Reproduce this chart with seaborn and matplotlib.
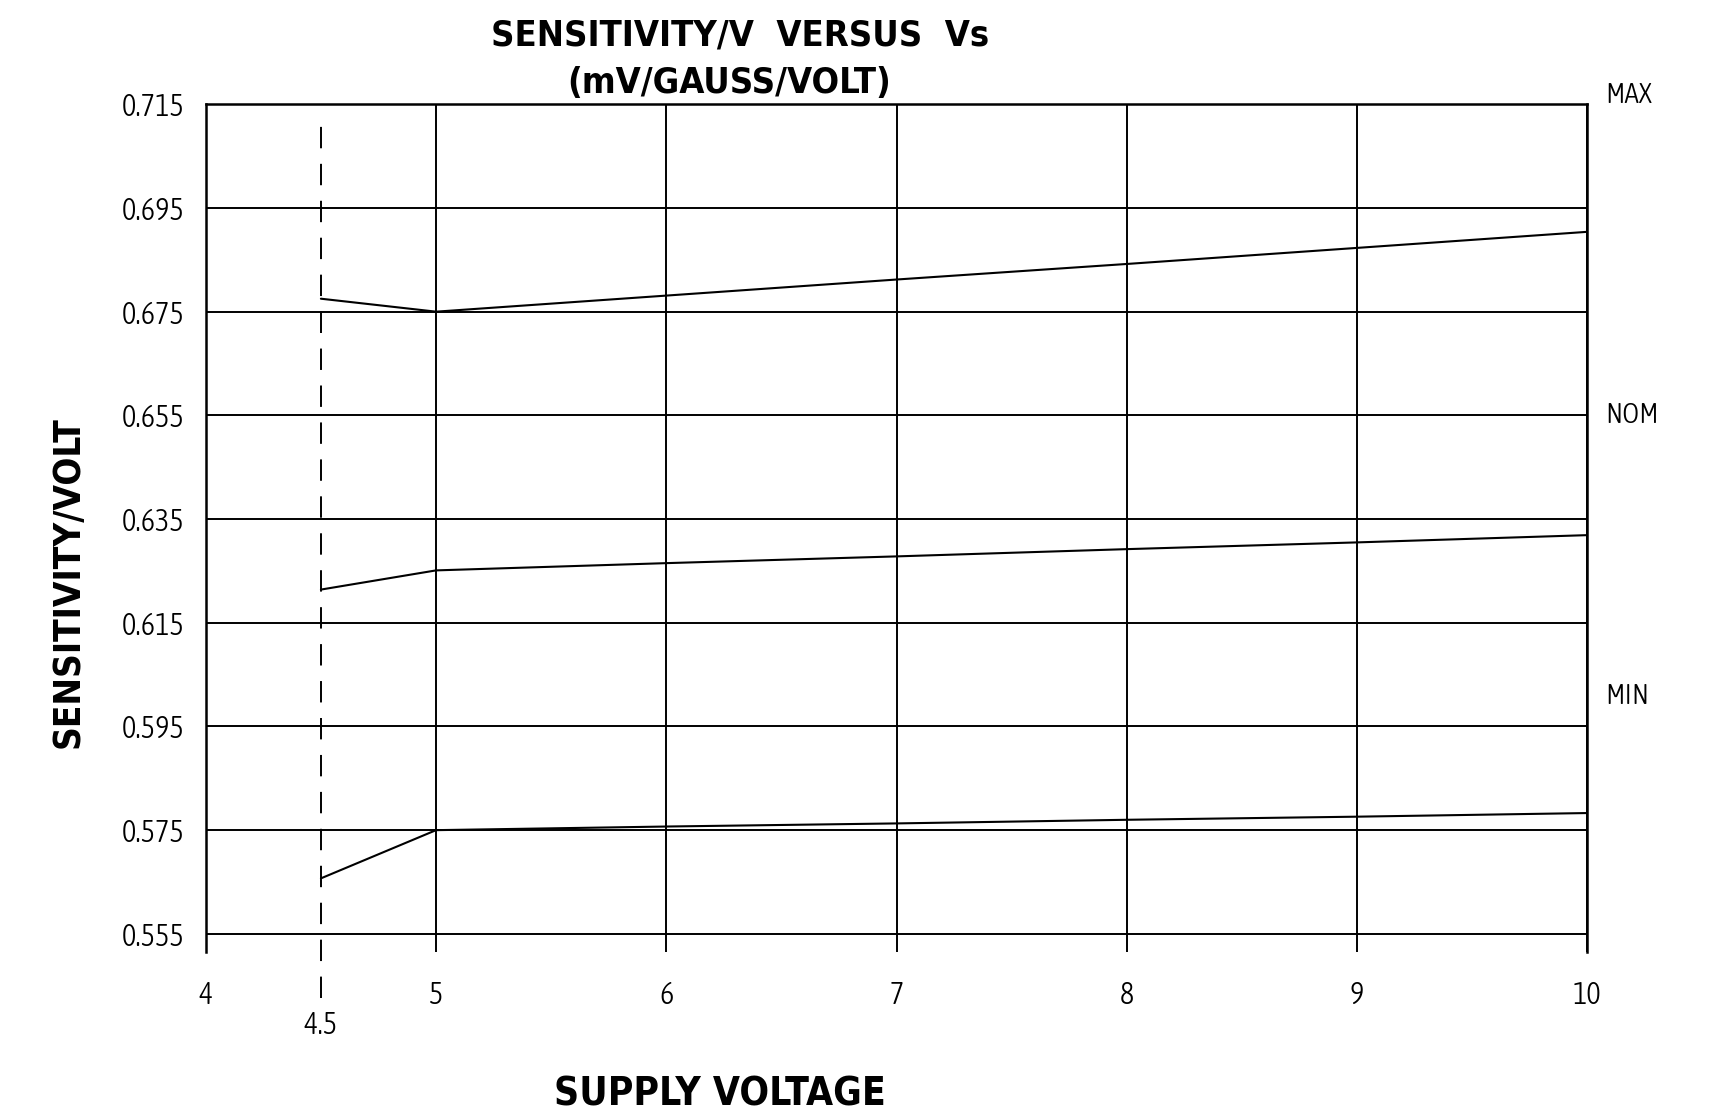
import os
import matplotlib
matplotlib.use("Agg")
import matplotlib.pyplot as plt
import matplotlib.transforms as mtransforms
from matplotlib import font_manager
import numpy as np
import pandas as pd
import seaborn as sns

# Supply voltage sample points (V)
supply_voltage = [4.5, 5, 6, 7, 8, 9, 10]

# Sensitivity per volt (mV/Gauss/Volt) for each limit curve
sens_max = [0.6775, 0.6750, 0.6781, 0.6812, 0.6842, 0.6873, 0.6904]
sens_nom = [0.6214, 0.6251, 0.6265, 0.6278, 0.6292, 0.6305, 0.6319]
sens_min = [0.5657, 0.5750, 0.5757, 0.5763, 0.5770, 0.5776, 0.5783]

series_names = ["MAX", "NOM", "MIN"]
series_label_levels = [0.7167, 0.655, 0.6007]

x_ticks = [4, 5, 6, 7, 8, 9, 10]
x_tick_labels = ["4", "5", "6", "7", "8", "9", "10"]
min_supply = 4.5
min_supply_label = "4.5"
y_ticks = [0.555, 0.575, 0.595, 0.615, 0.635, 0.655, 0.675, 0.695, 0.715]
y_tick_labels = ["0.555", "0.575", "0.595", "0.615", "0.635",
                 "0.655", "0.675", "0.695", "0.715"]

title_line1 = "SENSITIVITY/V  VERSUS  Vs"
title_line2 = "(mV/GAUSS/VOLT)"
x_label = "SUPPLY VOLTAGE"
y_label = "SENSITIVITY/VOLT"

df = pd.DataFrame({
    "voltage": supply_voltage * 3,
    "sensitivity": sens_max + sens_nom + sens_min,
    "curve": [n for n in series_names for _ in supply_voltage],
})


def narrow_face(weight_words, size, fallback_weight):
    """Return an installed condensed/narrow face, preferring the listed weights."""
    best = None
    best_rank = None
    for entry in font_manager.fontManager.ttflist:
        base = os.path.basename(entry.fname).lower()
        if not any(k in base for k in ("condensed", "narrow")):
            continue
        if any(k in base for k in ("italic", "oblique", "extracondensed",
                                    "semicondensed", "ultracondensed",
                                    "mono", "display", "serif")):
            continue
        stem = os.path.splitext(base)[0]
        style_part = stem.split("-")[-1] if "-" in stem else ""
        for k in ("condensed", "narrow"):
            style_part = style_part.replace(k, "")
        if style_part not in weight_words:
            continue
        w_rank = weight_words.index(style_part)
        if "notosans" in base:
            f_rank = 0
        elif "dejavu" in base:
            f_rank = 1
        elif "liberation" in base:
            f_rank = 2
        else:
            f_rank = 3
        rank = (w_rank, f_rank)
        if best_rank is None or rank < best_rank:
            best, best_rank = entry.fname, rank
    if best is not None:
        return font_manager.FontProperties(fname=best, size=size)
    return font_manager.FontProperties(family="DejaVu Sans",
                                       weight=fallback_weight, size=size)


sns.set_theme(style="white")
plt.rcParams["font.family"] = ["DejaVu Sans"]
plt.rcParams["text.color"] = "black"

thin_weights = ("light", "extralight", "regular", "")
title_fp = narrow_face(("bold",), 26, "bold")
ylabel_fp = narrow_face(("bold",), 26.5, "bold")
xlabel_fp = narrow_face(("bold",), 28, "bold")
tick_fp = narrow_face(thin_weights, 22, "light")
side_fp = narrow_face(thin_weights, 21, "light")

fig = plt.figure(figsize=(17.32, 11.2), dpi=100)
fig.patch.set_facecolor("white")
ax = fig.add_axes([0.1188, 0.15, 0.7977, 0.7569])
ax.set_facecolor("white")

sns.lineplot(data=df, x="voltage", y="sensitivity", hue="curve",
             palette={n: "black" for n in series_names},
             estimator=None, sort=False, legend=False,
             linewidth=1.5, ax=ax)

ax.set_xlim(4, 10)
ax.set_ylim(0.5515, 0.715)

ax.set_xticks(x_ticks)
ax.set_xticklabels(x_tick_labels)
ax.set_xticks([min_supply], minor=True)
ax.set_xticklabels([min_supply_label], minor=True)
ax.set_yticks(y_ticks)
ax.set_yticklabels(y_tick_labels)

ax.grid(True, which="major", color="black", linewidth=1.4)
ax.grid(False, which="minor")
ax.tick_params(axis="both", which="both", length=0, colors="black",
               labelcolor="black")
ax.tick_params(axis="x", which="major", pad=20)
ax.tick_params(axis="x", which="minor", pad=42)
ax.tick_params(axis="y", pad=15)
for lab in ax.get_xticklabels(which="both") + ax.get_yticklabels():
    lab.set_fontproperties(tick_fp)
    lab.set_color("black")

for side in ["left", "top", "right"]:
    ax.spines[side].set_visible(True)
    ax.spines[side].set_color("black")
    ax.spines[side].set_linewidth(1.8)
ax.spines["bottom"].set_visible(False)

ax.set_xlabel("")
ax.set_ylabel("")

# Minimum supply voltage marker
ax.plot([min_supply, min_supply], [0.5427, 0.712], color="black",
        linewidth=1.4, linestyle=(0, (11.0, 8.0)), clip_on=False)

# Curve names on the right margin
trans = mtransforms.blended_transform_factory(ax.transAxes, ax.transData)
for name, level in zip(series_names, series_label_levels):
    ax.text(1.013, level, name, transform=trans, ha="left", va="center",
            fontproperties=side_fp, color="black", clip_on=False)

fig.text(0.4273, 0.9679, title_line1, fontproperties=title_fp,
         color="black", ha="center", va="center")
fig.text(0.4209, 0.9259, title_line2, fontproperties=title_fp,
         color="black", ha="center", va="center")
fig.text(0.4157, 0.0232, x_label, fontproperties=xlabel_fp,
         color="black", ha="center", va="center")
fig.text(0.0393, 0.4804, y_label, rotation=90, fontproperties=ylabel_fp,
         color="black", ha="center", va="center")

fig.savefig("out.png", dpi=100, facecolor="white")
